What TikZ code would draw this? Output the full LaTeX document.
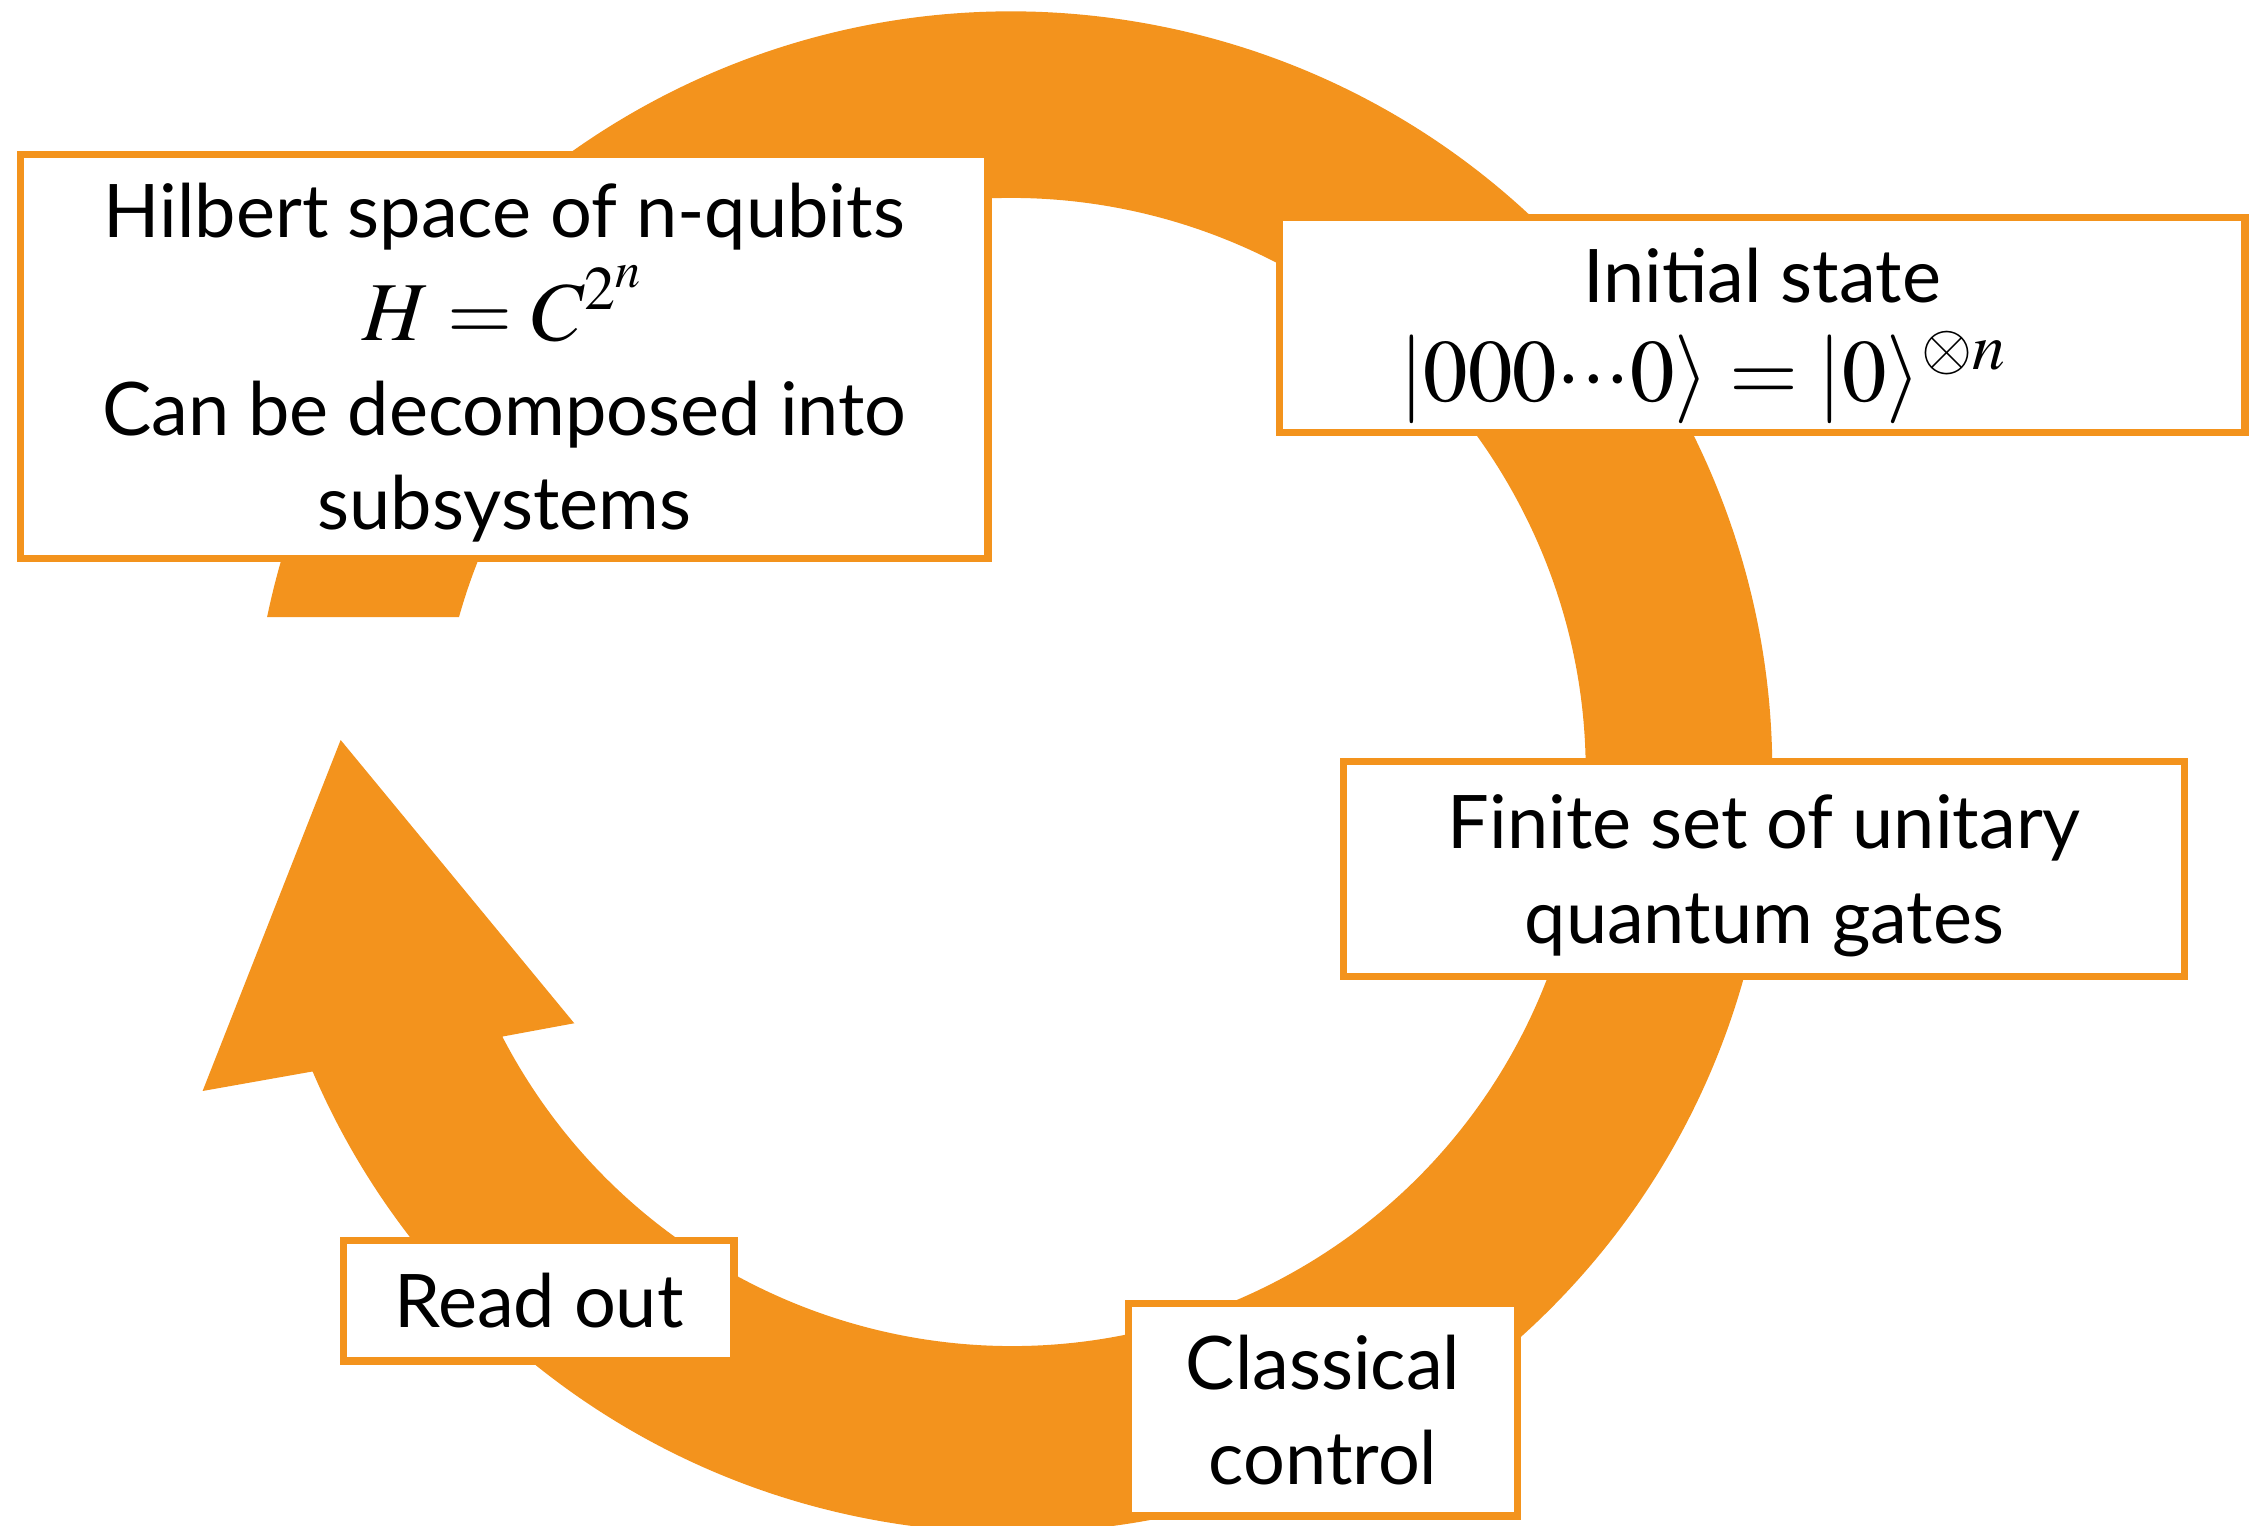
\documentclass[tikz,border=0pt]{standalone}
\usepackage{mathptmx}
\usepackage{fontspec}
\setmainfont{Lato}
\usepackage{tikz}
\definecolor{qorange}{RGB}{243,147,29}
\newcommand{\boxlines}[1]{\raisebox{-1.6pt}[\height][\depth]{\begin{tabular}{@{}c@{}}#1\end{tabular}}}
\newcommand{\bigmath}[2][16.6]{{\fontsize{#1}{18.8}\selectfont$#2$}}
\tikzset{
  box/.style={draw=qorange, line width=0.05cm, fill=white, inner sep=0pt,
              font=\fontsize{14.65}{18.8}\selectfont}
}

\begin{document}
\begin{tikzpicture}
                \useasboundingbox (0,0) rectangle (15.68,-10.63);
                \coordinate (ctr) at (7.05,-5.38);

                % the cycle arrow
                \fill[qorange] ([shift={(168.24:5.3)}]ctr) arc[start angle=168.24, end angle=-156.81, radius=5.3]
                    -- (1.412,-7.603) -- (2.374,-5.157) -- (4.002,-7.131)
                    -- ([shift={(-152.55:4)}]ctr) arc[start angle=-152.55, end angle=164.34, radius=4] -- cycle;

                \node[box, minimum width=6.74cm, minimum height=2.82cm] (hilbert) at (3.515,-2.485)
                    {\boxlines{Hilbert space of n-qubits\\ \bigmath{H = C^{2^n}}\\ Can be decomposed into\\ subsystems}};
                \node[box, minimum width=6.73cm, minimum height=1.50cm] (init) at (12.28,-2.265)
                    {\boxlines{Initial state\\ \bigmath[17.6]{|000{\cdot}{\cdot}{\cdot}0\rangle = |0\rangle^{\otimes n}}\hspace*{0.82cm}}};
                \node[box, minimum width=5.86cm, minimum height=1.50cm] (gates) at (12.295,-6.055)
                    {\boxlines{Finite set of unitary\\ quantum gates}};
                \node[box, minimum width=2.72cm, minimum height=0.84cm] (readout) at (3.755,-9.065)
                    {\boxlines{Read out}};
                \node[box, minimum width=2.71cm, minimum height=1.48cm] (classical) at (9.22,-9.825)
                    {\boxlines{Classical\\ control}};
            \end{tikzpicture}
\end{document}
